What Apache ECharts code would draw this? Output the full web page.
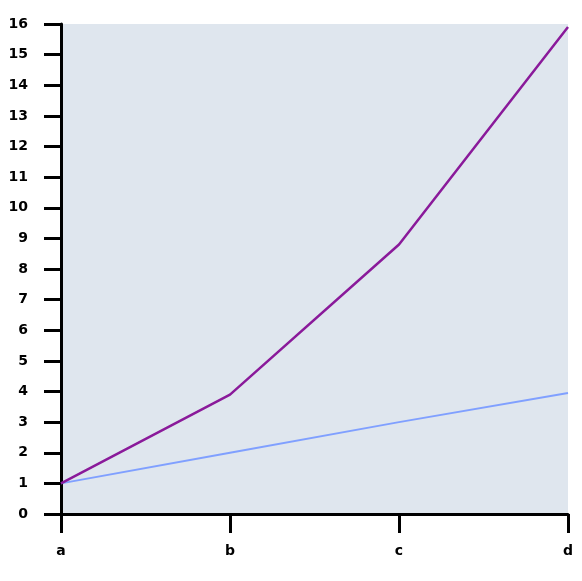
<!DOCTYPE html>
<html><head><meta charset="utf-8">
<script src="https://cdn.jsdelivr.net/npm/echarts@6/dist/echarts.min.js"></script>
<style>html,body{margin:0;padding:0;background:#fff}#c{width:582px;height:581px}</style>
</head><body><div id="c"></div>
<script>
var categories = ['a', 'b', 'c', 'd'];
var purpleValues = [1, 3.9, 8.8, 15.9];
var blueValues = [1, 2, 3, 3.95];
var yMin = 0, yMax = 16, yInterval = 1;

var chart = echarts.init(document.getElementById('c'), null, {renderer: 'canvas'});
var labelFont = {color: '#000', fontWeight: 'bold', fontSize: 14, fontFamily: 'DejaVu Sans'};
chart.setOption({
  animation: false,
  grid: {left: 61, right: 14, top: 24, bottom: 67, show: true, backgroundColor: '#dfe6ee', borderWidth: 0},
  xAxis: {
    type: 'category', data: categories, boundaryGap: false,
    axisLine: {lineStyle: {color: '#000', width: 3}},
    axisTick: {length: 19, lineStyle: {color: '#000', width: 3}},
    axisLabel: Object.assign({margin: 30}, labelFont),
    splitLine: {show: false}
  },
  yAxis: {
    type: 'value', min: yMin, max: yMax, interval: yInterval,
    axisLine: {show: true, lineStyle: {color: '#000', width: 3}},
    axisTick: {show: true, length: 17, lineStyle: {color: '#000', width: 3}},
    axisLabel: Object.assign({margin: 33}, labelFont),
    splitLine: {show: false}
  },
  series: [
    {type: 'line', data: blueValues, showSymbol: false, lineStyle: {color: '#80a0ff', width: 2}, z: 2},
    {type: 'line', data: purpleValues, showSymbol: false, lineStyle: {color: '#8a1a9a', width: 2.5}, z: 3}
  ]
});
</script></body></html>
